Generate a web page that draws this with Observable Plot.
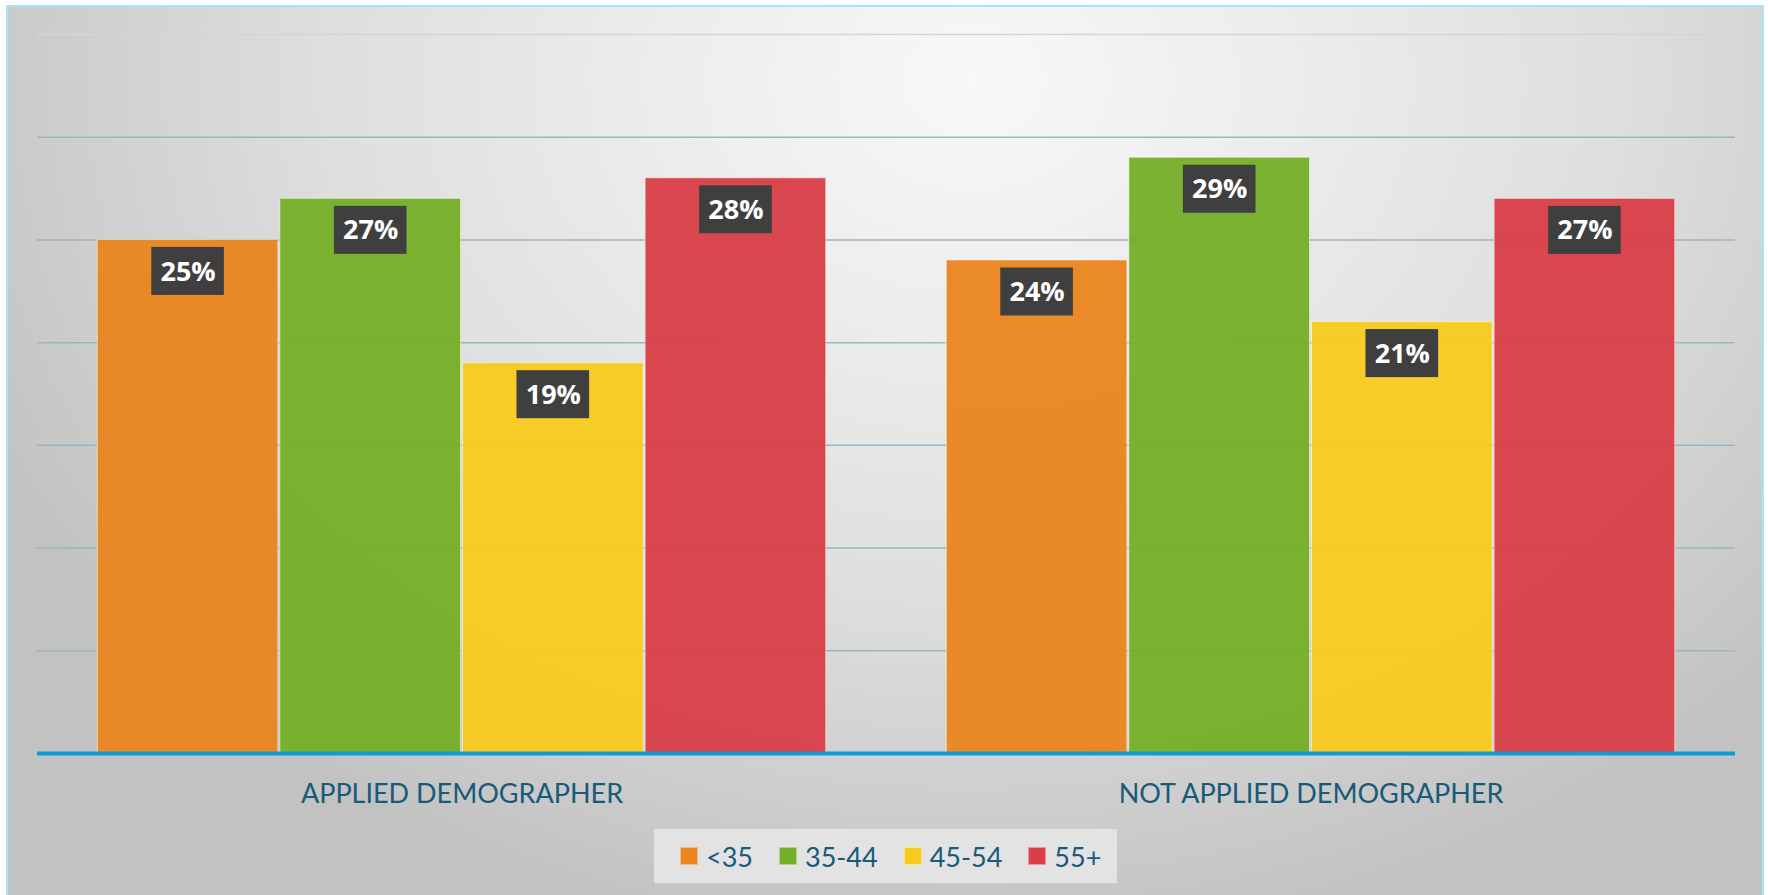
<!DOCTYPE html>
<html><head><meta charset="utf-8">
<script src="https://cdn.jsdelivr.net/npm/d3@7"></script>
<script src="https://cdn.jsdelivr.net/npm/@observablehq/plot@0.6"></script>
<style>
html,body{margin:0;padding:0;width:1768px;height:895px;overflow:hidden;background:#ffffff;}
#frame{position:absolute;left:6px;top:5px;width:1758px;height:920px;box-sizing:border-box;border:2px solid #a9e3f7;
 background:radial-gradient(ellipse 62% 95% at 55% 8%, #f8f8f8 0%, #ececec 30%, #dedede 60%, #cdcdcd 85%, #c2c2c2 100%);}
#chart{position:absolute;left:0;top:0;}
#legend{position:absolute;left:654px;top:829px;width:463px;height:54px;background:#e3e3e3;display:flex;align-items:center;box-sizing:border-box;padding-left:26px;font-family:Lato,sans-serif;font-size:27px;color:#175a7a;white-space:nowrap;}
.item{display:flex;align-items:center;margin-right:26px;flex-shrink:0;}
.sw{width:18px;height:18px;box-sizing:border-box;border:1px solid rgba(255,255,255,0.45);margin-right:8px;flex-shrink:0;}
</style></head>
<body>
<div id="frame"></div>
<div id="chart"></div>
<div id="legend"></div>
<script>
const groups = ["APPLIED DEMOGRAPHER", "NOT APPLIED DEMOGRAPHER"];
const ages = ["<35", "35-44", "45-54", "55+"];
const applied = [25, 27, 19, 28];
const notApplied = [24, 29, 21, 27];
const colors = ["#ea8520", "#76af2a", "#f8cb21", "#da3f48"];
const gridTicks = [5, 10, 15, 20, 25, 30];
const topTick = [35];

const series = [applied, notApplied];
const data = [];
groups.forEach((g, gi) => ages.forEach((a, ai) => data.push({group: g, age: a, value: series[gi][ai]})));

const chart = Plot.plot({
  width: 1768, height: 820,
  marginLeft: 37, marginRight: 33, marginTop: 34, marginBottom: 67,
  style: {background: "transparent", overflow: "visible"},
  fx: {domain: groups, padding: 0, label: null, round: false},
  x: {domain: ages, paddingInner: 0.011, paddingOuter: 0.33, axis: null, round: false},
  y: {domain: [0, 35], axis: null},
  color: {domain: ages, range: colors},
  marks: [
    Plot.ruleY(gridTicks, {stroke: "#9ab5c3", strokeWidth: 1.5}),
    Plot.ruleY(topTick, {stroke: "#d2d5d7", strokeWidth: 1.5}),
    Plot.barY(data, {fx: "group", x: "age", y: "value", fill: "age", fillOpacity: 0.96, stroke: "#ffffff", strokeOpacity: 0.5, strokeWidth: 1}),
    Plot.ruleY([0], {stroke: "#0b9bd8", strokeWidth: 4}),
    Plot.barY(data, {fx: "group", x: "age", y1: "value", y2: "value", insetTop: 7.5, insetBottom: -55.5, insetLeft: 54, insetRight: 54, fill: "#3f3f3f"}),
    Plot.text(data, {fx: "group", x: "age", y: "value", text: d => d.value + "%", dy: 32, fill: "white", fontSize: 27, fontWeight: "bold", fontFamily: "Open Sans"}),
    Plot.axisFx({anchor: "bottom", tickSize: 0, tickPadding: 30, fontSize: 27, fill: "#175a7a", fontFamily: "Lato", label: null})
  ]
});
document.getElementById("chart").appendChild(chart);

const legend = d3.select("#legend");
ages.forEach((a, i) => {
  const it = legend.append("div").attr("class", "item");
  it.append("div").attr("class", "sw").style("background", colors[i]);
  it.append("span").text(a);
});
</script>
</body></html>
